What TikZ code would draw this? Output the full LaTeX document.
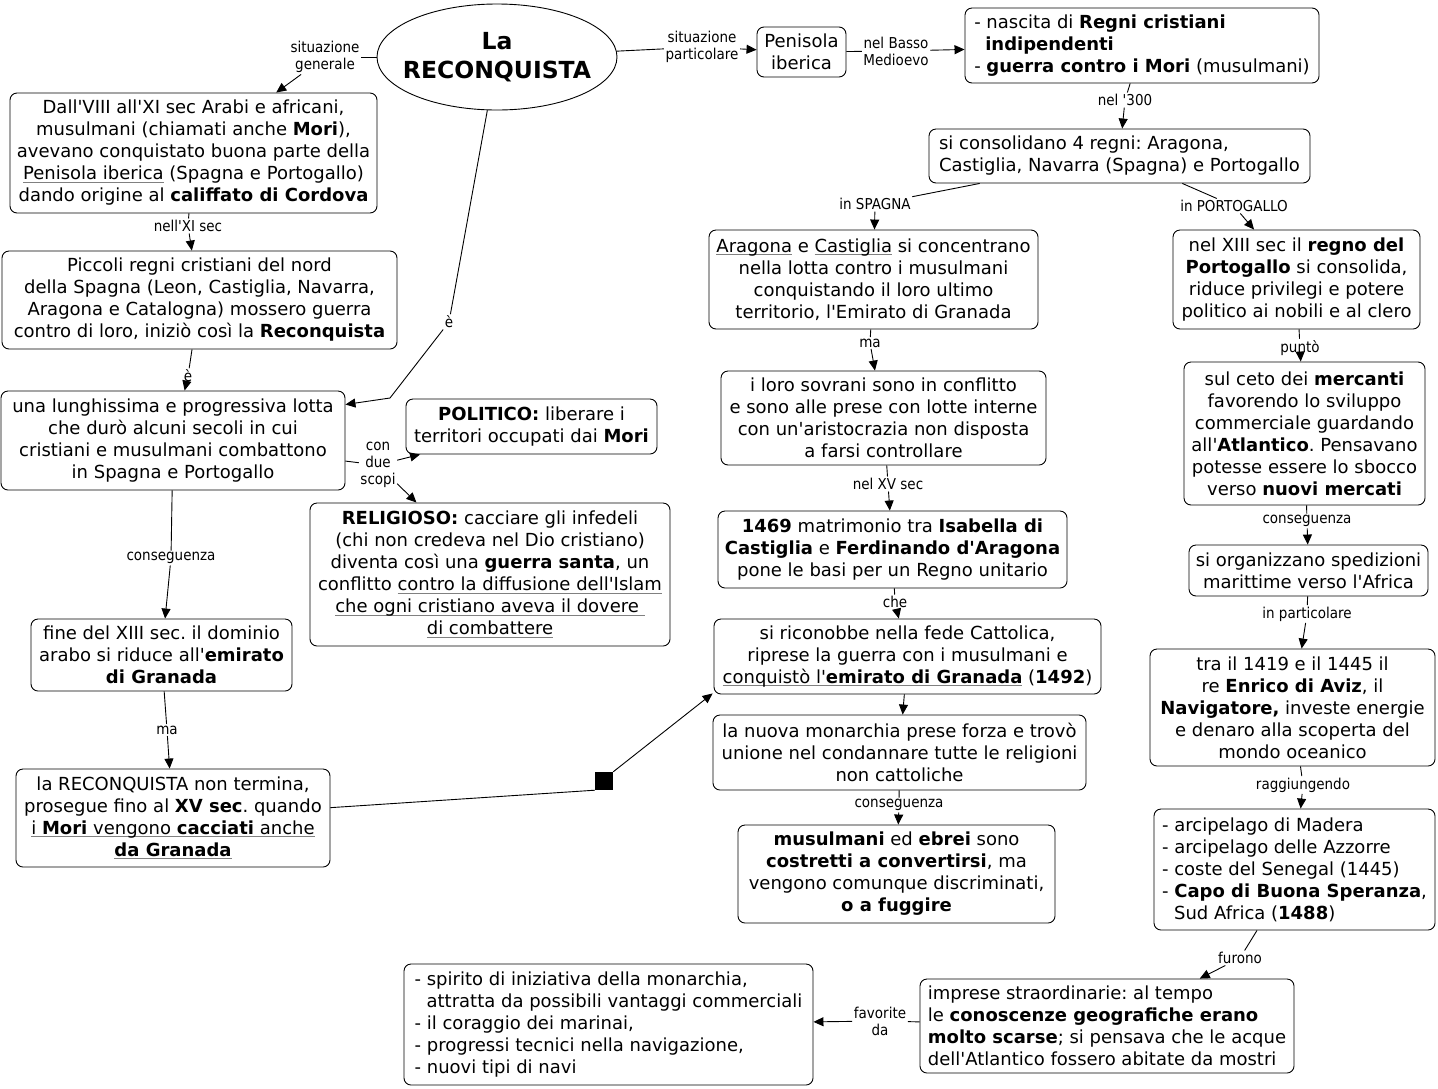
\documentclass[tikz,border=0pt]{standalone}
\usepackage{fontspec}
\setmainfont{DejaVu Sans}[Ligatures=TeXOff]
\newfontfamily\lblfont{DejaVu Sans}[FakeStretch=0.9,Ligatures=TeXOff]
\usetikzlibrary{arrows.meta,shapes.geometric}
\definecolor{ulgray}{RGB}{128,128,128}
\newcommand\gul[1]{\begingroup\setbox0\hbox{#1}\rlap{\textcolor{ulgray}{\rule[-3pt]{\wd0}{1.3pt}}}\box0\endgroup}
\frenchspacing
\begin{document}
\frenchspacing
\begin{tikzpicture}[x=1pt,y=-1pt,
 box/.style={draw, rounded corners=7pt, line width=0.9pt, inner sep=0pt, align=center, font=\fontsize{18}{22}\selectfont},
 lbox/.style={box, align=left},
 lbl/.style={inner sep=1.5pt, align=center, font=\lblfont\fontsize{15}{17}\selectfont},
 con/.style={line width=0.9pt},
 arr/.style={line width=0.9pt, -{Triangle[length=10pt,width=9pt]}}]
\useasboundingbox (0,0) rectangle (1438,1088);

% title
\node[draw, ellipse, line width=0.9pt, minimum width=240pt, minimum height=106pt, inner sep=0pt, align=center, font=\bfseries\fontsize{23.5}{29}\selectfont] (ell) at (497,57) {\makebox[140pt]{La}\\\makebox[140pt]{RECONQUISTA}};

% left column
\node[box, minimum width=367pt, minimum height=120pt] (A) at (193.5,153) {Dall'VIII all'XI sec Arabi e africani,\\musulmani (chiamati anche \textbf{Mori}),\\avevano conquistato buona parte della\\\gul{Penisola iberica} (Spagna e Portogallo)\\dando origine al \textbf{califfato di Cordova}};
\node[box, minimum width=395pt, minimum height=98pt] (B) at (199.5,300) {Piccoli regni cristiani del nord\\della Spagna (Leon, Castiglia, Navarra,\\Aragona e Catalogna) mossero guerra\\contro di loro, iniziò così la \textbf{Reconquista}};
\node[box, minimum width=344pt, minimum height=99pt] (C) at (173,440.5) {una lunghissima e progressiva lotta\\che durò alcuni secoli in cui\\cristiani e musulmani combattono\\in Spagna e Portogallo};
\node[box, minimum width=251pt, minimum height=55pt] (POL) at (531.5,426.5) {\textbf{POLITICO:} liberare i\\territori occupati dai \textbf{Mori}};
\node[box, minimum width=360pt, minimum height=143pt] (REL) at (490,574.5) {\textbf{RELIGIOSO:} cacciare gli infedeli\\(chi non credeva nel Dio cristiano)\\diventa così una \textbf{guerra santa}, un\\conflitto \gul{contro la diffusione dell'Islam}\\\gul{che ogni cristiano aveva il dovere\ }\\\gul{di combattere}};
\node[box, minimum width=261pt, minimum height=72pt] (D) at (161.5,655) {fine del XIII sec. il dominio\\arabo si riduce all'\textbf{emirato}\\\textbf{di Granada}};
\node[box, minimum width=314pt, minimum height=98pt] (E) at (173,818) {la RECONQUISTA non termina,\\prosegue fino al \textbf{XV sec}. quando\\\gul{i \textbf{Mori} vengono \textbf{cacciati} anche}\\\gul{\textbf{da Granada}}};
\node[fill=black, minimum size=18pt, inner sep=0pt] (sq) at (604,781) {};

% middle / right
\node[box, minimum width=89pt, minimum height=50pt] (PEN) at (801.5,52) {Penisola\\iberica};
\node[lbox, minimum width=354pt, minimum height=75pt] (REG) at (1142,45.5) {- nascita di \textbf{Regni cristiani}\\\hspace*{11pt}\textbf{indipendenti}\\- \textbf{guerra contro i Mori} (musulmani)};
\node[lbox, minimum width=381pt, minimum height=54pt] (CONS) at (1119.5,156) {si consolidano 4 regni: Aragona,\\Castiglia, Navarra (Spagna) e Portogallo};
\node[box, minimum width=329pt, minimum height=99pt] (ARA) at (873.5,279.5) {\gul{Aragona} e \gul{Castiglia} si concentrano\\nella lotta contro i musulmani\\conquistando il loro ultimo\\territorio, l'Emirato di Granada};
\node[box, minimum width=247pt, minimum height=99pt] (POR) at (1296.5,279.5) {nel XIII sec il \textbf{regno del}\\\textbf{Portogallo} si consolida,\\riduce privilegi e potere\\politico ai nobili e al clero};
\node[box, minimum width=325pt, minimum height=94pt] (SOV) at (883.5,418) {i loro sovrani sono in conflitto\\e sono alle prese con lotte interne\\con un'aristocrazia non disposta\\a farsi controllare};
\node[box, minimum width=349pt, minimum height=77pt] (MAT) at (892.5,549.5) {\textbf{1469} matrimonio tra \textbf{Isabella di}\\\textbf{Castiglia} e \textbf{Ferdinando d'Aragona}\\pone le basi per un Regno unitario};
\node[box, minimum width=387pt, minimum height=75pt] (RIC) at (907.5,656.5) {si riconobbe nella fede Cattolica,\\riprese la guerra con i musulmani e\\\gul{conquistò l'\textbf{emirato di Granada}} (\textbf{1492})};
\node[box, minimum width=373pt, minimum height=75pt] (NUO) at (899.5,752.5) {la nuova monarchia prese forza e trovò\\unione nel condannare tutte le religioni\\non cattoliche};
\node[box, minimum width=317pt, minimum height=98pt] (MUS) at (896.5,874) {\textbf{musulmani} ed \textbf{ebrei} sono\\\textbf{costretti a convertirsi}, ma\\vengono comunque discriminati,\\\textbf{o a fuggire}};
\node[box, minimum width=241pt, minimum height=143pt] (MER) at (1304.5,433.5) {sul ceto dei \textbf{mercanti}\\favorendo lo sviluppo\\commerciale guardando\\all'\textbf{Atlantico}. Pensavano\\potesse essere lo sbocco\\verso \textbf{nuovi mercati}};
\node[box, minimum width=239pt, minimum height=51pt] (SPE) at (1308.5,570.5) {si organizzano spedizioni\\marittime verso l'Africa};
\node[box, minimum width=285pt, minimum height=117pt] (TRA) at (1292.5,707.5) {tra il 1419 e il 1445 il\\re \textbf{Enrico di Aviz}, il\\\textbf{Navigatore,} investe energie\\e denaro alla scoperta del\\mondo oceanico};
\node[lbox, minimum width=281pt, minimum height=121pt] (ARC) at (1294.5,869.5) {- arcipelago di Madera\\- arcipelago delle Azzorre\\- coste del Senegal (1445)\\- \textbf{Capo di Buona Speranza},\\\hspace*{12pt}Sud Africa (\textbf{1488})};
\node[lbox, minimum width=374pt, minimum height=94pt] (IMP) at (1107,1026) {imprese straordinarie: al tempo\\le \textbf{conoscenze geografiche erano}\\\textbf{molto scarse}; si pensava che le acque\\dell'Atlantico fossero abitate da mostri};
\node[lbox, minimum width=409pt, minimum height=121pt] (SPI) at (608.5,1024.5) {- spirito di iniziativa della monarchia,\\\hspace*{12pt}attratta da possibili vantaggi commerciali\\- il coraggio dei marinai,\\- progressi tecnici nella navigazione,\\- nuovi tipi di navi};

% labels
\node[lbl] (lsg) at (325,57) {situazione\\generale};
\node[lbl] (lE) at (449,322) {è};
\node[lbl] (lnxi) at (188,226) {nell'XI sec};
\node[lbl] (le2) at (188,376) {è};
\node[lbl] (lc1) at (171,558) {conseguenza};
\node[lbl] (lma1) at (167,730) {ma};
\node[lbl] (lcds) at (378,465) {con\\due\\scopi};
\node[lbl] (lsp) at (702,47) {situazione\\particolare};
\node[lbl] (lbm) at (896,51) {nel Basso\\Medioevo};
\node[lbl] (l300) at (1125,100) {nel '300};
\node[lbl] (lspa) at (875,204) {in SPAGNA};
\node[lbl] (lpo) at (1234,206) {in PORTOGALLO};
\node[lbl] (lma2) at (870,343) {ma};
\node[lbl] (lxv) at (888,484) {nel XV sec};
\node[lbl] (lche) at (895,602) {che};
\node[lbl] (lc2) at (899,805) {conseguenza};
\node[lbl] (lpun) at (1300,348) {puntò};
\node[lbl] (lc3) at (1307,521) {conseguenza};
\node[lbl] (lpar) at (1307,614) {in particolare};
\node[lbl] (lrag) at (1303,785) {raggiungendo};
\node[lbl] (lfur) at (1240,958) {furono};
\node[lbl] (lfav) at (880,1021) {favorite\\da};
\coordinate (k1) at (390,398);

% connectors
\draw[con] (ell) -- (lsg); \draw[arr] (lsg) -- (A);
\draw[con] (ell) -- (lE); \draw[arr] (lE) -- (k1) -- ([yshift=36pt]C.east);
\draw[con] (A) -- (lnxi); \draw[arr] (lnxi) -- (B);
\draw[con] (B) -- (le2); \draw[arr] (le2) -- (C);
\draw[con] (C) -- (lc1); \draw[arr] (lc1) -- (D);
\draw[con] (D) -- (lma1); \draw[arr] (lma1) -- (E);
\draw[con] (C) -- (lcds); \draw[arr] (lcds) -- (POL); \draw[arr] (lcds) -- (REL);
\draw[con] (E) -- (sq.south west); \draw[arr] (sq.north east) -- ([xshift=-1pt,yshift=1pt]RIC.south west);
\draw[con] (ell) -- (lsp); \draw[arr] (lsp) -- (PEN);
\draw[con] (PEN) -- (lbm); \draw[arr] (lbm) -- (REG);
\draw[con] (REG) -- (l300); \draw[arr] (l300) -- (CONS);
\draw[con] (CONS) -- (lspa); \draw[arr] (lspa) -- (ARA);
\draw[con] (CONS) -- (lpo); \draw[arr] (lpo) -- (POR);
\draw[con] (ARA) -- (lma2); \draw[arr] (lma2) -- (SOV);
\draw[con] (SOV) -- (lxv); \draw[arr] (lxv) -- (MAT);
\draw[con] (MAT) -- (lche); \draw[arr] (lche) -- (RIC);
\draw[arr] (RIC) -- (NUO);
\draw[con] (NUO) -- (lc2); \draw[arr] (lc2) -- (MUS);
\draw[con] (POR) -- (lpun); \draw[arr] (lpun) -- (MER);
\draw[con] (MER) -- (lc3); \draw[arr] (lc3) -- (SPE);
\draw[con] (SPE) -- (lpar); \draw[arr] (lpar) -- (TRA);
\draw[con] (TRA) -- (lrag); \draw[arr] (lrag) -- (ARC);
\draw[con] (ARC) -- (lfur); \draw[arr] (lfur) -- (IMP);
\draw[con] (IMP) -- (lfav); \draw[arr] (lfav) -- (SPI);
\end{tikzpicture}
\end{document}
